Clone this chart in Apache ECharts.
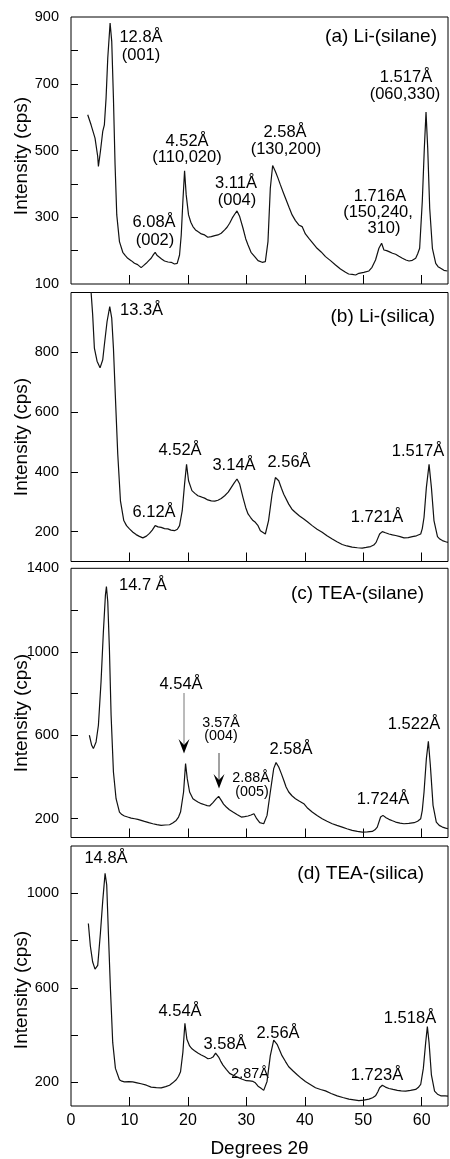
<!DOCTYPE html>
<html><head><meta charset="utf-8">
<script src="https://cdn.jsdelivr.net/npm/echarts@6/dist/echarts.min.js"></script>
<style>html,body{margin:0;padding:0;background:#fff}#c{width:450px;height:1159px}</style>
</head><body><div id="c"></div>
<script>
// ---- data: [2θ (deg), intensity (cps)] ----
const seriesA = [[2.86,607],[3.43,577],[4.11,537],[4.57,482],[4.69,452],[5.03,497],[5.43,557],[5.71,577],[6.0,657],[6.29,777],[6.69,882],[6.97,827],[7.26,657],[7.54,457],[7.83,307],[8.29,227],[8.86,195],[9.3,185],[9.71,177],[10.3,170],[10.86,162],[11.4,158],[12.0,149],[12.4,155],[12.86,162],[13.3,170],[13.71,177],[14.1,188],[14.4,195],[14.7,186],[14.97,182],[15.5,175],[16.0,169],[16.6,166],[17.14,165],[17.7,160],[18.17,162],[18.57,187],[18.86,247],[19.14,347],[19.43,439],[19.71,367],[20.11,307],[20.5,285],[20.86,272],[21.3,262],[21.71,257],[22.3,250],[22.86,247],[23.4,240],[24.0,242],[24.6,245],[25.14,247],[25.7,252],[26.29,262],[26.7,270],[27.14,282],[27.6,298],[28.0,309],[28.4,319],[28.86,302],[29.43,267],[29.9,235],[30.29,217],[30.8,195],[31.43,182],[32.0,170],[32.7,165],[33.25,167],[33.7,227],[34.1,387],[34.5,455],[34.97,437],[35.4,418],[35.83,397],[36.3,375],[36.7,357],[37.3,330],[37.83,307],[38.4,290],[38.97,277],[39.54,272],[40.1,250],[40.7,237],[41.4,222],[42.1,207],[42.8,196],[43.54,182],[44.4,170],[45.26,157],[46.1,145],[46.97,135],[47.5,130],[48.1,129],[48.7,127],[49.25,132],[50.1,135],[50.97,139],[51.5,150],[52.1,172],[52.68,207],[53.14,222],[53.54,202],[54.0,200],[54.4,197],[55.0,192],[55.54,189],[56.1,183],[56.7,177],[57.3,172],[57.83,169],[58.4,171],[58.97,177],[59.3,190],[59.65,207],[60.1,347],[60.45,507],[60.74,615],[61.03,507],[61.37,327],[61.83,207],[62.4,162],[62.8,152],[63.25,147],[63.8,141],[64.4,139],[64.5,140]];
const seriesB = [[2.9,1150],[3.43,1003],[3.71,925],[4.0,814],[4.46,770],[4.97,748],[5.43,775],[5.71,825],[6.17,903],[6.63,953],[6.97,914],[7.26,814],[7.6,648],[8.0,459],[8.46,303],[9.03,237],[9.5,220],[10.0,209],[10.6,198],[11.14,190],[11.7,184],[12.29,179],[12.9,185],[13.43,194],[13.9,205],[14.4,220],[14.9,216],[15.43,214],[16.0,210],[16.57,209],[17.1,205],[17.71,203],[18.2,208],[18.57,220],[19.03,270],[19.43,359],[19.77,425],[20.11,370],[20.69,337],[21.2,328],[21.71,320],[22.3,316],[22.86,312],[23.4,306],[24.0,303],[24.6,302],[25.14,305],[25.7,311],[26.29,320],[26.9,332],[27.43,348],[27.9,362],[28.4,376],[28.86,359],[29.43,314],[29.9,280],[30.29,259],[30.7,248],[31.14,237],[31.54,231],[32.0,220],[32.4,203],[33.25,192],[33.8,237],[34.4,325],[34.97,381],[35.54,370],[36.0,345],[36.4,325],[37.25,292],[37.8,275],[38.4,264],[39.1,252],[39.83,242],[40.5,232],[41.26,220],[42.1,208],[42.97,198],[43.8,186],[44.7,175],[45.5,166],[46.4,157],[47.2,152],[48.1,148],[49.0,146],[49.83,145],[50.5,147],[51.26,150],[51.8,155],[52.2,164],[52.8,192],[53.26,200],[53.8,196],[54.4,192],[55.0,189],[55.54,187],[56.3,183],[56.97,179],[57.7,180],[58.4,183],[59.1,186],[59.83,192],[60.1,210],[60.4,248],[60.8,348],[61.26,425],[61.66,348],[62.1,237],[62.7,183],[63.1,175],[63.54,170],[64.1,166],[64.5,164]];
const seriesC = [[3.14,600],[3.54,552],[3.83,536],[4.29,568],[4.69,648],[5.14,856],[5.54,1096],[5.89,1272],[6.06,1312],[6.29,1240],[6.57,1016],[6.86,696],[7.26,424],[7.71,296],[8.29,232],[8.7,220],[9.14,213],[9.7,208],[10.29,203],[10.9,200],[11.43,197],[12.0,192],[12.57,187],[13.3,181],[14.0,176],[14.7,172],[15.43,168],[16.1,170],[16.86,171],[17.4,180],[18.0,192],[18.4,208],[18.74,232],[19.26,328],[19.6,464],[19.89,392],[20.29,328],[20.86,296],[21.3,287],[21.71,280],[22.3,272],[22.86,267],[23.3,263],[23.71,261],[24.29,277],[24.86,296],[25.26,307],[25.71,288],[26.1,270],[26.57,256],[27.1,243],[27.71,232],[28.4,220],[29.14,208],[29.7,210],[30.29,213],[30.8,218],[31.3,224],[31.77,200],[32.29,181],[32.97,176],[33.54,216],[34.1,328],[34.68,440],[35.08,469],[35.54,448],[36.0,415],[36.4,384],[36.8,352],[37.25,328],[37.8,310],[38.4,296],[39.1,284],[39.83,272],[40.5,250],[41.26,232],[42.1,215],[42.97,200],[43.8,188],[44.7,176],[45.5,168],[46.4,160],[47.2,152],[48.1,144],[49.0,139],[49.83,136],[50.7,137],[51.54,139],[52.0,147],[52.4,160],[52.97,208],[53.37,216],[53.9,205],[54.4,197],[55.0,190],[55.54,184],[56.3,179],[56.97,176],[57.8,178],[58.7,181],[59.3,188],[59.83,200],[60.1,240],[60.4,328],[60.8,488],[61.14,571],[61.48,456],[61.94,264],[62.5,184],[63.0,168],[63.54,160],[64.1,155],[64.5,152]];
const seriesD = [[2.97,872],[3.31,777],[3.71,709],[4.11,679],[4.3,672],[4.57,695],[5.03,831],[5.43,968],[5.83,1084],[6.11,1036],[6.4,831],[6.74,600],[7.14,368],[7.6,259],[8.29,211],[8.7,205],[9.14,202],[9.9,203],[10.57,202],[11.3,198],[12.0,194],[12.9,188],[13.71,180],[14.6,178],[15.43,177],[16.2,182],[16.86,188],[17.4,198],[18.0,211],[18.4,226],[18.74,245],[19.14,327],[19.49,450],[19.83,382],[20.29,354],[20.7,342],[21.14,334],[21.7,324],[22.29,316],[22.9,308],[23.43,300],[23.9,302],[24.29,307],[24.74,324],[25.26,307],[25.6,290],[26.0,273],[26.6,254],[27.14,238],[27.9,228],[28.57,221],[29.3,213],[30.0,207],[30.6,206],[31.14,204],[31.54,198],[32.0,184],[32.4,177],[32.97,166],[33.54,204],[34.1,313],[34.68,379],[35.26,361],[35.7,336],[36.1,313],[36.7,288],[37.25,266],[38.0,248],[38.7,232],[39.4,217],[40.1,204],[41.0,190],[41.83,177],[42.7,170],[43.54,164],[44.5,153],[45.54,143],[46.5,136],[47.54,129],[48.4,126],[49.25,123],[50.1,125],[50.97,129],[51.6,135],[52.1,143],[52.5,160],[52.8,177],[53.26,188],[53.8,180],[54.4,174],[55.1,170],[55.83,166],[56.5,164],[57.26,163],[58.1,166],[58.97,170],[59.4,178],[59.83,191],[60.28,259],[60.68,368],[60.97,436],[61.26,368],[61.66,232],[62.2,163],[62.7,150],[63.26,143],[64.0,143],[64.5,142]];

const xTicks = [0,10,20,30,40,50,60];
const yRangeA = [100,900], yTicksA = [200,300,400,500,600,700,800], yLabelsA = [100,300,500,700,900];
const yRangeB = [100,1000], yTicksB = [200,400,600,800], yLabelsB = [200,400,600,800];
const yRangeC = [110,1400], yTicksC = [200,400,600,800,1000,1200], yLabelsC = [200,600,1000,1400];
const yRangeD = [100,1200], yTicksD = [200,400,600,800,1000], yLabelsD = [200,600,1000];
const panelTitles = ['(a) Li-(silane)','(b) Li-(silica)','(c) TEA-(silane)','(d) TEA-(silica)'];

const FONT = '"Liberation Sans", Arial, Helvetica, sans-serif';
const chart = echarts.init(document.getElementById('c'), null, {renderer:'canvas'});

const gridBoxes = [
  {top:17, height:267},
  {top:292.5, height:269},
  {top:568.3, height:269.2},
  {top:846, height:268.3}
];
const allSeries = [seriesA, seriesB, seriesC, seriesD];
const yRanges = [yRangeA, yRangeB, yRangeC, yRangeD];
const yTicks = [yTicksA, yTicksB, yTicksC, yTicksD];
const yLabels = [yLabelsA, yLabelsB, yLabelsC, yLabelsD];

const grid = gridBoxes.map(g => ({left:71, right:2, top:g.top, height:g.height, show:true, borderColor:'#000', borderWidth:1, backgroundColor:'transparent'}));

const xAxis = gridBoxes.map((g,i) => ({
  type:'value', gridIndex:i, min:0, max:64.5, interval:10,
  axisLine:{show:false},
  axisTick:{show:true, inside:true, length:9, lineStyle:{color:'#000', width:1}, customValues: xTicks.slice(1)},
  axisLabel:{show: i===3, color:'#000', fontSize:16, fontFamily:FONT, margin:7, customValues: xTicks,
             formatter: v => String(v)},
  splitLine:{show:false},
  name: i===3 ? 'Degrees 2θ' : '', nameLocation:'middle', nameGap:33,
  nameTextStyle:{color:'#000', fontSize:19, fontFamily:FONT}
}));

const yAxis = gridBoxes.map((g,i) => ({
  type:'value', gridIndex:i, min:yRanges[i][0], max:yRanges[i][1],
  axisLine:{show:false},
  axisTick:{show:true, inside:true, length:7, lineStyle:{color:'#000', width:1}, customValues: yTicks[i]},
  axisLabel:{show:true, color:'#000', fontSize:14.5, fontFamily:FONT, margin:12, customValues: yLabels[i],
             formatter: v => String(v)},
  splitLine:{show:false}
}));

const series = allSeries.map((d,i) => ({
  type:'line', xAxisIndex:i, yAxisIndex:i, data:d, showSymbol:false, symbol:'none',
  lineStyle:{color:'#111', width:1.2}, clip:true, animation:false
}));

function txt(x, y, text, size, align) {
  return {type:'text', x:x, y:y, silent:true,
    style:{text:text, fill:'#000', fontSize:size, fontFamily:FONT, align:align||'center', verticalAlign:'middle'}};
}
function ylab(y) {
  return {type:'text', x:22, y:y, rotation:Math.PI/2, silent:true,
    style:{text:'Intensity (cps)', fill:'#000', fontSize:19, fontFamily:FONT, align:'center', verticalAlign:'middle'}};
}
const N = 16.5, S = 14.3, T = 19;
const graphic = [
  ylab(156), ylab(437), ylab(713), ylab(990),
  // panel titles
  txt(437, 37, panelTitles[0], T, 'right'),
  txt(435, 317, panelTitles[1], T, 'right'),
  txt(424, 594, panelTitles[2], T, 'right'),
  txt(424, 874, panelTitles[3], T, 'right'),
  // (a)
  txt(141, 37, '12.8Å', N), txt(141, 55, '(001)', N),
  txt(154, 222, '6.08Å', N), txt(155, 240, '(002)', N),
  txt(187, 141, '4.52Å', N), txt(187, 157, '(110,020)', N),
  txt(236, 183, '3.11Å', N), txt(237, 200, '(004)', N),
  txt(285, 132, '2.58Å', N), txt(286, 149, '(130,200)', N),
  txt(380, 196, '1.716A', N), txt(378, 212, '(150,240,', N), txt(384, 228, '310)', N),
  txt(406, 77, '1.517Å', N), txt(405, 94, '(060,330)', N),
  // (b)
  txt(120, 310, '13.3Å', N, 'left'),
  txt(154, 512, '6.12Å', N),
  txt(180, 450, '4.52Å', N),
  txt(234, 465, '3.14Å', N),
  txt(289, 462, '2.56Å', N),
  txt(377, 517, '1.721Å', N),
  txt(418, 451, '1.517Å', N),
  // (c)
  txt(119, 585, '14.7 Å', N, 'left'),
  txt(181, 684, '4.54Å', N),
  txt(221, 723, '3.57Å', S), txt(221, 736, '(004)', S),
  txt(251, 778, '2.88Å', S), txt(252, 792, '(005)', S),
  txt(291, 749, '2.58Å', N),
  txt(383, 799, '1.724Å', N),
  txt(414, 724, '1.522Å', N),
  {type:'line', silent:true, shape:{x1:184, y1:693, x2:184, y2:748}, style:{stroke:'#777', lineWidth:1}},
  {type:'polygon', silent:true, shape:{points:[[178.5,739],[184,745],[189.5,739],[184,753.5]]}, style:{fill:'#000'}},
  {type:'line', silent:true, shape:{x1:219, y1:753, x2:219, y2:783}, style:{stroke:'#444', lineWidth:1}},
  {type:'polygon', silent:true, shape:{points:[[213.5,774],[219,780],[224.5,774],[219,788.5]]}, style:{fill:'#000'}},
  // (d)
  txt(106, 858, '14.8Å', N),
  txt(180, 1011, '4.54Å', N),
  txt(225, 1044, '3.58Å', N),
  txt(250, 1074, '2.87Å', S),
  txt(278, 1033, '2.56Å', N),
  txt(377, 1075, '1.723Å', N),
  txt(410, 1018, '1.518Å', N)
];

chart.setOption({
  animation:false,
  backgroundColor:'#fff',
  grid: grid, xAxis: xAxis, yAxis: yAxis, series: series, graphic: graphic
});
</script>
</body></html>
